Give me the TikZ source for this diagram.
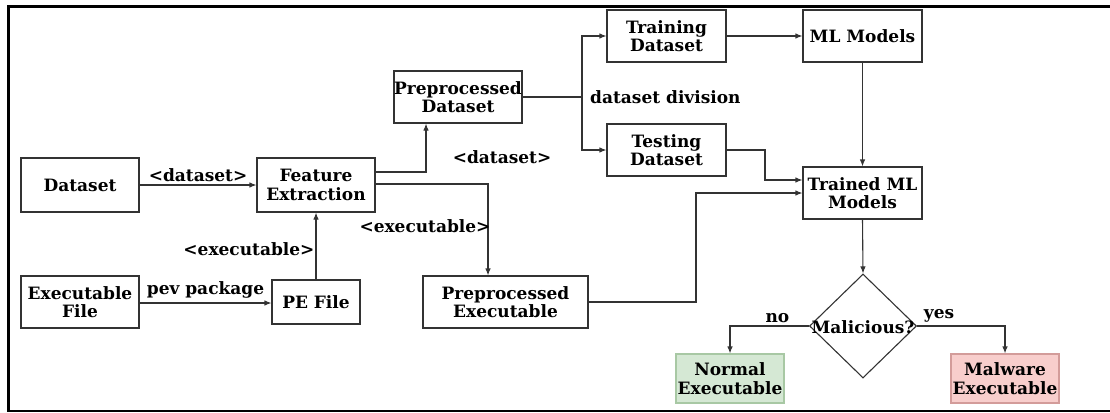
\documentclass[tikz,border=0pt]{standalone}
\usepackage{fontspec}
\setmainfont{DejaVu Serif}
\usetikzlibrary{arrows.meta,shapes.geometric}
\definecolor{lnc}{HTML}{333333}
\definecolor{gfill}{HTML}{D5E8D4}
\definecolor{gdraw}{HTML}{A8C8A4}
\definecolor{rfill}{HTML}{F8CECC}
\definecolor{rdraw}{HTML}{D39C9A}
\tikzset{
  box/.style={draw=lnc, line width=1.1pt, fill=white, align=center, inner sep=0pt,
    font=\fontsize{17}{18.5}\selectfont\bfseries},
  conn/.style={draw=lnc, line width=1.1pt, -{Latex[length=7pt,width=5.5pt]}},
  lbl/.style={font=\fontsize{17}{18.5}\selectfont\bfseries, inner sep=0pt},
  frame/.style={line width=2.5pt, black}
}
\begin{document}
\begin{tikzpicture}[x=1pt,y=-1pt]
\useasboundingbox (0,0) rectangle (1110,412);
% frame
\draw[frame, line width=3.5pt] (8.5,5.5) -- (8.5,412);
\draw[frame] (7,6.5) -- (1110,6.5);
\draw[frame] (7,411) -- (1110,411);

% boxes
\node[box, minimum width=118pt, minimum height=54pt] (ds) at (80,185) {Dataset};
\node[box, minimum width=118pt, minimum height=54pt] (fe) at (316,185) {Feature\\Extraction};
\node[box, minimum width=128pt, minimum height=52pt] (pd) at (458,97) {Preprocessed\\Dataset};
\node[box, minimum width=119pt, minimum height=52pt] (tr) at (666.5,36) {Training\\Dataset};
\node[box, minimum width=119pt, minimum height=52pt] (ml) at (862.5,36) {ML Models};
\node[box, minimum width=119pt, minimum height=52pt] (te) at (666.5,150) {Testing\\Dataset};
\node[box, minimum width=119pt, minimum height=52pt] (tm) at (862.5,193) {Trained ML\\Models};
\node[box, minimum width=118pt, minimum height=52pt] (ef) at (80,302) {Executable\\File};
\node[box, minimum width=88pt, minimum height=44pt] (pe) at (316,302) {PE File};
\node[box, minimum width=165pt, minimum height=52pt] (px) at (505.5,302) {Preprocessed\\Executable};
\node[draw=lnc, line width=1.1pt, diamond, aspect=1.03, inner sep=0pt,
  minimum width=107pt, minimum height=104pt] (dia) at (863,326) {};
\node[lbl] (dial) at (863,327) {Malicious?};
\node[box, draw=gdraw, fill=gfill, minimum width=108pt, minimum height=49pt] (ne) at (730,378.5) {Normal\\Executable};
\node[box, draw=rdraw, fill=rfill, minimum width=108pt, minimum height=49pt] (mw) at (1005,378.5) {Malware\\Executable};

% helper coordinates
\coordinate (sp) at (582,97);

% connectors
\draw[conn] (ds) -- node[lbl, above=3pt] (l1) {<dataset>} (fe);
\draw[conn] (ef.east |- 0,303) -- node[lbl, above=4pt] (l2) {pev package} (pe.west |- 0,303);
\draw[conn] (pe.north) -- node[lbl, left=1pt, pos=0.45] (l3) {<executable>} (fe.south);
\draw[conn] (fe.east |- 0,172) -| (pd.south -| 426,0);
\node[lbl] (l4) at (502,157) {<dataset>};
\draw[conn] (fe.east |- 0,184) -| (px.north -| 488,0);
\node[lbl] (l5) at (425,226) {<executable>};
\draw[draw=lnc, line width=1.1pt] (pd.east) -- (sp);
\draw[conn] (sp) |- (tr.west);
\draw[conn] (sp) |- (te.west);
\node[lbl, anchor=west] (l6) at (590,97) {dataset division};
\draw[conn] (tr) -- (ml);
\draw[conn] (ml) -- (tm);
\draw[conn] (te.east) -- (765,150) |- (tm.west |- 0,180);
\draw[conn] (px.east) -- (696,302) |- (tm.west |- 0,193);
\draw[conn] (tm.south) -- (dia.north);
\draw[conn] (dia.west) -| node[lbl, pos=0.2, above=3pt] (l7) {no} (ne.north);
\draw[conn] (dia.east) -| node[lbl, pos=0.125, above=3pt] (l8) {yes} (mw.north);
\end{tikzpicture}
\end{document}
